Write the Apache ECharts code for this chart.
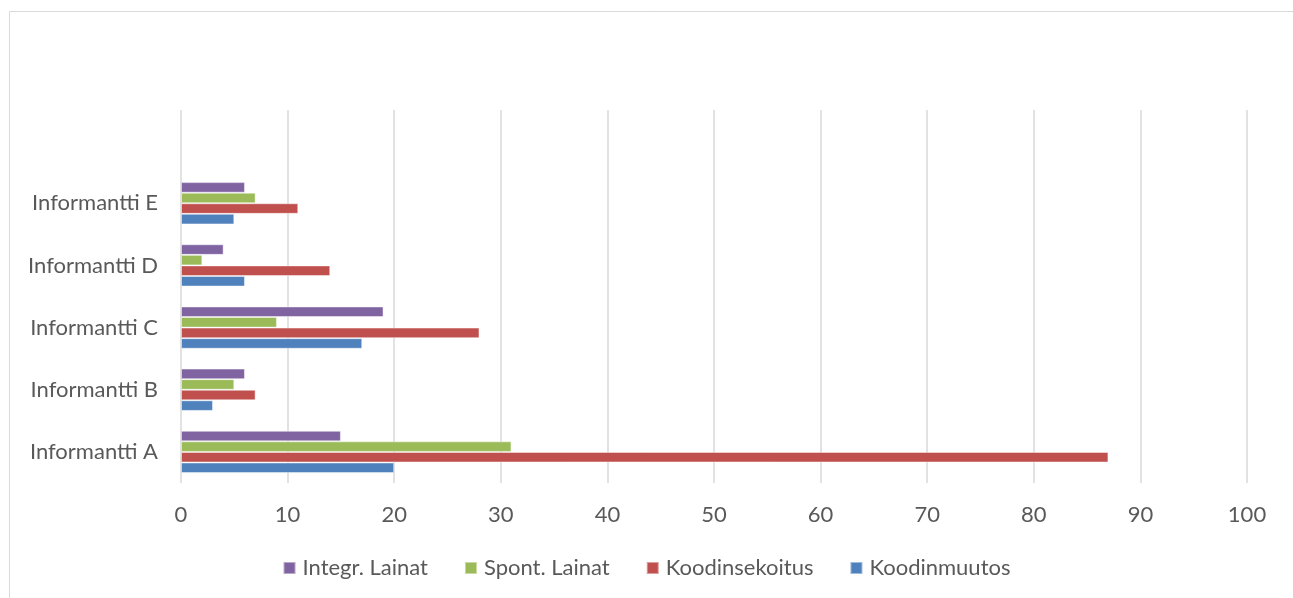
<!DOCTYPE html>
<html>
<head>
<meta charset="utf-8">
<script src="https://cdn.jsdelivr.net/npm/echarts@6/dist/echarts.min.js"></script>
<style>
  html, body { margin: 0; padding: 0; background: #fff; }
  #chart { width: 1293px; height: 598px; }
</style>
</head>
<body>
<div id="chart"></div>
<script>
// values
var categories = ['Informantti A', 'Informantti B', 'Informantti C', 'Informantti D', 'Informantti E', ''];
var koodinmuutos = [20, 3, 17, 6, 5];
var koodinsekoitus = [87, 7, 28, 14, 11];
var spontLainat = [31, 5, 9, 2, 7];
var integrLainat = [15, 6, 19, 4, 6];
var xTicks = [0, 100, 10];   // min, max, step

var textColor = '#595959';
var fontFamily = 'Lato, "Open Sans", sans-serif';

function barSeries(name, data, color) {
    return {
        name: name,
        type: 'bar',
        data: data,
        barGap: '0%',
        barCategoryGap: '32%',
        itemStyle: {
            color: color,
            borderColor: 'rgba(255,255,255,0.45)',
            borderWidth: 1
        }
    };
}

var chart = echarts.init(document.getElementById('chart'));
chart.setOption({
    backgroundColor: '#fff',
    animation: false,
    textStyle: { fontFamily: fontFamily },
    graphic: [{
        type: 'rect',
        shape: { x: 9.5, y: 11.5, width: 1400, height: 700 },
        style: { fill: 'none', stroke: '#d9d9d9', lineWidth: 1 },
        silent: true
    }],
    grid: { left: 181, right: 46, top: 110, bottom: 115, containLabel: false },
    legend: {
        bottom: 14,
        left: 'center',
        itemWidth: 12,
        itemHeight: 12,
        itemGap: 36,
        icon: 'rect',
        data: ['Integr. Lainat', 'Spont. Lainat', 'Koodinsekoitus', 'Koodinmuutos'],
        textStyle: { color: textColor, fontSize: 22, fontFamily: fontFamily, padding: [0, 0, 0, 2] }
    },
    xAxis: {
        type: 'value',
        min: xTicks[0],
        max: xTicks[1],
        interval: xTicks[2],
        axisLine: { show: false },
        axisTick: { show: false },
        axisLabel: { color: textColor, fontSize: 22, margin: 21 },
        splitLine: { lineStyle: { color: '#d9d9d9', width: 1.5 } }
    },
    yAxis: {
        type: 'category',
        data: categories,
        axisLine: { show: false },
        axisTick: { show: false },
        axisLabel: { color: textColor, fontSize: 22, margin: 23 }
    },
    // first series sits at the top of each group
    series: [
        barSeries('Integr. Lainat', integrLainat, '#8064a2'),
        barSeries('Spont. Lainat', spontLainat, '#9bbb59'),
        barSeries('Koodinsekoitus', koodinsekoitus, '#c0504d'),
        barSeries('Koodinmuutos', koodinmuutos, '#4f81bd')
    ]
});
</script>
</body>
</html>
